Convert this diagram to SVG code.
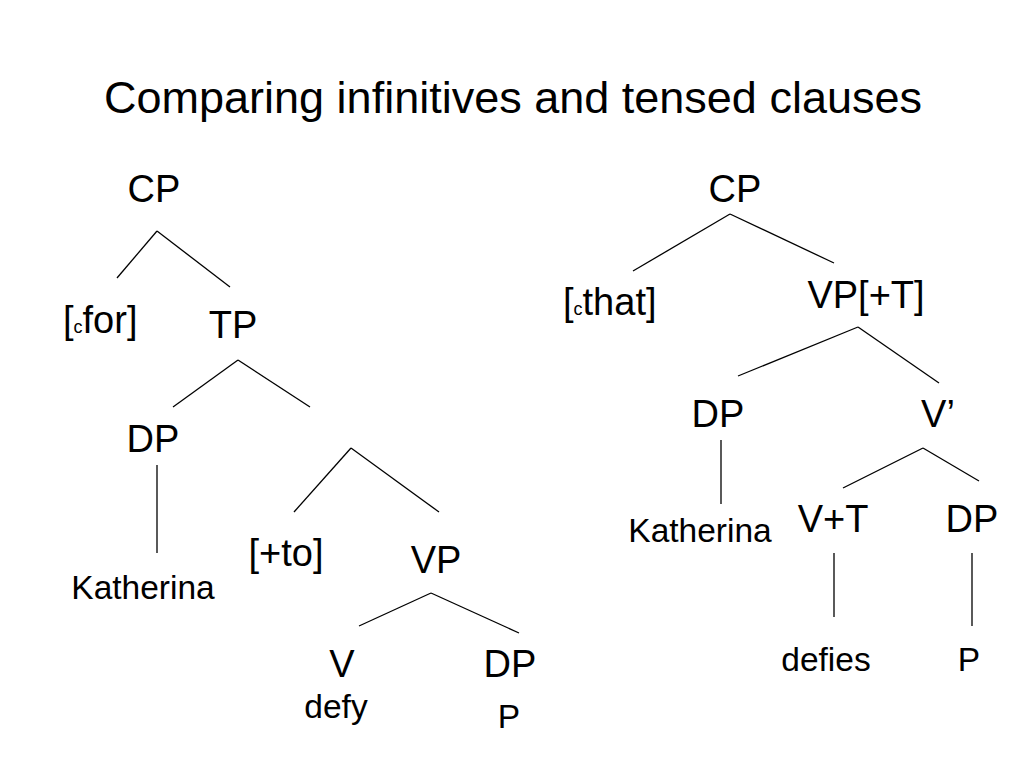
<svg xmlns="http://www.w3.org/2000/svg" width="1024" height="768" viewBox="0 0 1024 768">
<style>
text{font-family:"Liberation Sans",Arial,sans-serif;fill:#000}
.t{font-size:45px}
.n{font-size:38px}
.s{font-size:33.5px}
.sub{font-size:18px}
.c line{stroke:#000;stroke-width:1.3}
</style>
<rect width="1024" height="768" fill="#fff"/>
<text class="t" x="513" y="113" text-anchor="middle">Comparing infinitives and tensed clauses</text>
<g class="c" id="connectors">
<line x1="157" y1="231" x2="117" y2="278"/>
<line x1="157" y1="231" x2="230" y2="287"/>
<line x1="238" y1="360" x2="173" y2="407"/>
<line x1="238" y1="360" x2="310" y2="407"/>
<line x1="157" y1="465" x2="157" y2="553"/>
<line x1="351" y1="448" x2="294" y2="512"/>
<line x1="351" y1="448" x2="439" y2="512"/>
<line x1="431" y1="593" x2="359" y2="626"/>
<line x1="431" y1="593" x2="519" y2="633"/>
<line x1="730" y1="214" x2="633" y2="271"/>
<line x1="730" y1="214" x2="834" y2="263"/>
<line x1="858" y1="327" x2="738" y2="376"/>
<line x1="858" y1="327" x2="939" y2="383"/>
<line x1="721" y1="440" x2="721" y2="504"/>
<line x1="923" y1="448" x2="843" y2="488"/>
<line x1="923" y1="448" x2="979" y2="481"/>
<line x1="834" y1="553" x2="834" y2="617"/>
<line x1="972" y1="553" x2="972" y2="626"/>
</g>
<g id="L-CP"><text class="n" x="154" y="202" text-anchor="middle">CP</text></g>
<g id="L-for"><text class="n" x="63" y="333">[<tspan class="sub">c</tspan>for]</text></g>
<g id="L-TP"><text class="n" x="233" y="338" text-anchor="middle">TP</text></g>
<g id="L-DP"><text class="n" x="153" y="452" text-anchor="middle">DP</text></g>
<g id="L-Katherina"><text class="s" x="143" y="599" text-anchor="middle">Katherina</text></g>
<g id="L-to"><text class="n" x="286" y="566" text-anchor="middle">[+to]</text></g>
<g id="L-VP"><text class="n" x="436" y="573" text-anchor="middle">VP</text></g>
<g id="L-V"><text class="n" x="342" y="677" text-anchor="middle">V</text></g>
<g id="L-DP2"><text class="n" x="510" y="677" text-anchor="middle">DP</text></g>
<g id="L-defy"><text class="s" x="336" y="718" text-anchor="middle">defy</text></g>
<g id="L-P"><text class="s" x="509" y="728" text-anchor="middle">P</text></g>
<g id="R-CP"><text class="n" x="735" y="202" text-anchor="middle">CP</text></g>
<g id="R-that"><text class="n" x="563" y="315">[<tspan class="sub">c</tspan>that]</text></g>
<g id="R-VPT"><text class="n" x="866" y="308" text-anchor="middle">VP[+T]</text></g>
<g id="R-DP"><text class="n" x="718" y="427" text-anchor="middle">DP</text></g>
<g id="R-Vbar"><text class="n" x="938" y="427" text-anchor="middle">V’</text></g>
<g id="R-Katherina"><text class="s" x="700" y="542" text-anchor="middle">Katherina</text></g>
<g id="R-VT"><text class="n" x="833" y="532" text-anchor="middle">V+T</text></g>
<g id="R-DP2"><text class="n" x="972" y="532" text-anchor="middle">DP</text></g>
<g id="R-defies"><text class="s" x="826" y="671" text-anchor="middle">defies</text></g>
<g id="R-P"><text class="s" x="969" y="671" text-anchor="middle">P</text></g>
</svg>
